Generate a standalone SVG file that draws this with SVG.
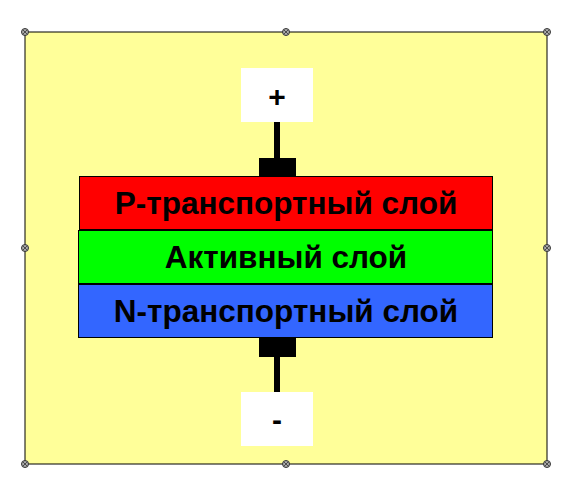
<svg xmlns="http://www.w3.org/2000/svg" width="576" height="496" viewBox="0 0 576 496">
<style>
.lbl{font-family:"Liberation Sans",Arial,sans-serif;font-weight:bold;font-size:31.5px;fill:#000;text-anchor:middle}
.sgn{font-family:"Liberation Sans",Arial,sans-serif;font-weight:bold;font-size:30px;fill:#000;text-anchor:middle}
.layer{stroke:#000;stroke-width:1}
.term{fill:#fff}
.blk{fill:#000}
</style>
<defs>
<g id="h"><circle r="3.5" fill="#aaa" stroke="#333" stroke-width="1"/><path d="M-2,-2L2,2M-2,2L2,-2" stroke="#333" stroke-width="0.8"/></g>
</defs>
<rect x="0" y="0" width="576" height="496" fill="#fff"/>
<rect id="frame" x="25" y="32" width="522" height="432" fill="#ffff99" stroke="#000" stroke-width="1"/>
<g id="connectors">
<rect class="blk" x="274" y="122" width="6" height="36"/>
<rect class="blk" x="259" y="158" width="37" height="18"/>
<rect class="blk" x="259" y="338" width="37" height="19"/>
<rect class="blk" x="274" y="357" width="6" height="35"/>
</g>
<g id="plus"><rect class="term" x="241" y="68" width="72" height="54"/><text class="sgn" x="277" y="107">+</text></g>
<g id="minus"><rect class="term" x="241" y="392" width="72" height="54"/><text class="sgn" x="277" y="430">-</text></g>
<g id="p-layer"><rect class="layer" x="79.5" y="176.5" width="413" height="53" fill="#ff0000"/><text class="lbl" x="286" y="213.5">P-транспортный слой</text></g>
<g id="active"><rect class="layer" x="78.5" y="230.5" width="414" height="53" fill="#00ff00"/><text class="lbl" x="286" y="267.5">Активный слой</text></g>
<g id="n-layer"><rect class="layer" x="78.5" y="284.5" width="414" height="53" fill="#3366ff"/><text class="lbl" x="286" y="321.5">N-транспортный слой</text></g>
<g id="handles">
<use href="#h" x="25" y="32"/><use href="#h" x="286" y="32"/><use href="#h" x="547" y="32"/>
<use href="#h" x="25" y="248"/><use href="#h" x="547" y="248"/>
<use href="#h" x="25" y="464"/><use href="#h" x="286" y="464"/><use href="#h" x="547" y="464"/>
</g>
</svg>
